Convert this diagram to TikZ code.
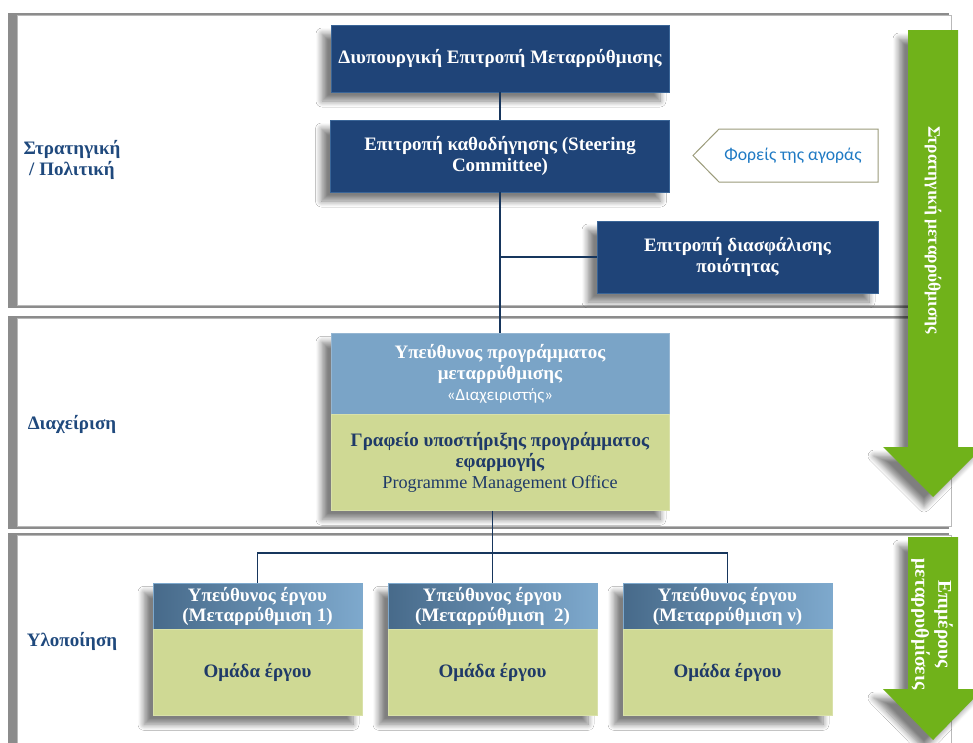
\documentclass[tikz,border=0pt]{standalone}
\usepackage{fontspec}
\setmainfont{Liberation Serif}
\newfontfamily\calibrifont{Carlito}
\usetikzlibrary{shadows.blur}

\definecolor{navy}{HTML}{1F4478}
\definecolor{navyedge}{HTML}{3A6597}
\definecolor{navyline}{HTML}{17365D}
\definecolor{steel}{HTML}{7AA4C7}
\definecolor{olivebody}{HTML}{CFD994}
\definecolor{hdrdark}{HTML}{476A8A}
\definecolor{hdrlight}{HTML}{7EA9CD}
\definecolor{labelblue}{HTML}{1F497D}
\definecolor{textnavy}{HTML}{1F3A68}
\definecolor{arrowgreen}{HTML}{70B21A}
\definecolor{marketblue}{HTML}{1F7AC4}
\definecolor{marketedge}{HTML}{9B9B7A}
\definecolor{panelshadow}{HTML}{8C8C8C}

\tikzset{
  boxshadow/.style={blur shadow={shadow xshift=-9pt, shadow yshift=-9pt,
      shadow blur steps=8, shadow blur radius=6pt, shadow opacity=50}},
  panel/.style={fill=white, draw=gray!55, line width=0.6pt},
  panelback/.style={fill=panelshadow},
  darkbox/.style={boxshadow, fill=navy, draw=navyedge, line width=0.6pt,
      text=white, align=center, inner sep=2pt,
      font=\fontsize{19}{21.5}\selectfont\bfseries},
  steelbox/.style={fill=steel, draw=steel!80!white, line width=0.6pt,
      text=white, align=center, inner sep=2pt,
      font=\fontsize{19}{21.5}\selectfont\bfseries},
  olivebox/.style={fill=olivebody, draw=olivebody!80!white, line width=0.6pt,
      text=textnavy, align=center, inner sep=2pt},
  headbox/.style={left color=hdrdark, right color=hdrlight, draw=hdrlight,
      line width=0.6pt, text=white, align=center, inner sep=2pt,
      minimum width=209pt, minimum height=46pt,
      font=\fontsize{19}{19.5}\selectfont\bfseries},
  teambox/.style={olivebox, minimum width=209pt, minimum height=86pt,
      font=\fontsize{19}{21}\selectfont\bfseries},
  levellabel/.style={text=labelblue, align=center,
      font=\fontsize{19}{21}\selectfont\bfseries},
  link/.style={draw=navyline, line width=1.2pt},
  greenarrow/.style={fill=arrowgreen, boxshadow},
  arrowtext/.style={text=white, align=center, rotate=-90,
      font=\fontsize{17.5}{22}\selectfont\bfseries},
}

\begin{document}
\begin{tikzpicture}[x=1pt, y=-1pt]
\useasboundingbox (0,0) rectangle (973,742);

% ---- level panels ----
\fill[panelback] (8,13) rectangle (949,308);
\draw[panel] (17,15) rectangle (951,305);
\fill[panelback] (8,316) rectangle (949,529);
\draw[panel] (17,318) rectangle (951,526);
\fill[panelback] (8,533) rectangle (949,760);
\draw[panel] (17,535) rectangle (951,760);

% ---- level labels ----
\node[levellabel] (lvlA) at (72,160) {Στρατηγική\\/ Πολιτική};
\node[levellabel] (lvlB) at (72,424) {Διαχείριση};
\node[levellabel] (lvlC) at (72,641) {Υλοποίηση};

% ---- green process arrows ----
\path[greenarrow] (908,30) -- (958,30) -- (958,447) -- (983,447)
  -- (933,497) -- (883,447) -- (908,447) -- cycle;
\node[arrowtext] (arrA) at (933,230) {Στρατηγική μεταρρύθμισης};
\path[greenarrow] (908,537) -- (958,537) -- (958,689) -- (983,689)
  -- (933,740) -- (883,689) -- (908,689) -- cycle;
\node[arrowtext, font=\fontsize{19.5}{23}\selectfont\bfseries]
  (arrB) at (932,624) {Επιμέρους\\μεταρρυθμίσεις};

% ---- strategic level ----
\node[darkbox, minimum width=338pt, minimum height=67pt] (inter) at (500,58.5)
  {Διυπουργική Επιτροπή Μεταρρύθμισης};
\node[darkbox, minimum width=339pt, minimum height=72pt] (steer) at (500,156)
  {Επιτροπή καθοδήγησης (Steering\\Committee)};
\node[darkbox, minimum width=281pt, minimum height=72pt] (quality) at (737.5,257)
  {Επιτροπή διασφάλισης\\ποιότητας};

% market stakeholders tag
\draw[fill=white, draw=marketedge, line width=1pt]
  (693,155.5) -- (719,129) -- (878,129) -- (878,182) -- (719,182) -- cycle;
\node[text=marketblue, font=\calibrifont\fontsize{17.7}{20}\selectfont]
  (market) at (793,156) {Φορείς της αγοράς};

% ---- management level ----
\node[steelbox, boxshadow, minimum width=338pt, minimum height=177pt,
  anchor=north] (pmshadow) at (500,333) {};
\node[steelbox, minimum width=338pt, minimum height=81pt, anchor=north]
  (pm) at (500,333)
  {Υπεύθυνος προγράμματος\\μεταρρύθμισης\\[-1pt]
   {\calibrifont\mdseries\fontsize{17}{19}\selectfont «Διαχειριστής»}};
\node[olivebox, minimum width=338pt, minimum height=96pt, anchor=north,
  font=\fontsize{19}{21}\selectfont] (pmo) at (500,414)
  {\textbf{Γραφείο υποστήριξης προγράμματος}\\\textbf{εφαρμογής}\\[0pt]
   {\fontsize{18.2}{20}\selectfont Programme Management Office}};

% ---- implementation level ----
\node[headbox, boxshadow, minimum height=132pt, anchor=north] (s1) at (257.5,583) {};
\node[headbox, anchor=north] (h1) at (257.5,583) {Υπεύθυνος έργου\\(Μεταρρύθμιση 1)};
\node[teambox, anchor=north] (t1) at (257.5,629) {Ομάδα έργου};

\node[headbox, boxshadow, minimum height=132pt, anchor=north] (s2) at (492.5,583) {};
\node[headbox, anchor=north] (h2) at (492.5,583) {Υπεύθυνος έργου\\(Μεταρρύθμιση\ \ 2)};
\node[teambox, anchor=north] (t2) at (492.5,629) {Ομάδα έργου};

\node[headbox, boxshadow, minimum height=132pt, anchor=north] (s3) at (727.5,583) {};
\node[headbox, anchor=north] (h3) at (727.5,583) {Υπεύθυνος έργου\\(Μεταρρύθμιση ν)};
\node[teambox, anchor=north] (t3) at (727.5,629) {Ομάδα έργου};

% ---- connectors ----
\draw[link] (inter.south) -- (steer.north);
\draw[link] (steer.south) -- (pm.north);
\draw[link] (quality.west) -- (quality.west -| steer.south);
\draw[link] (pmo.south -| h2.north) -- (h2.north);
\draw[link] (h1.north) -- ++(0,-30) -| (h3.north);
\end{tikzpicture}
\end{document}
